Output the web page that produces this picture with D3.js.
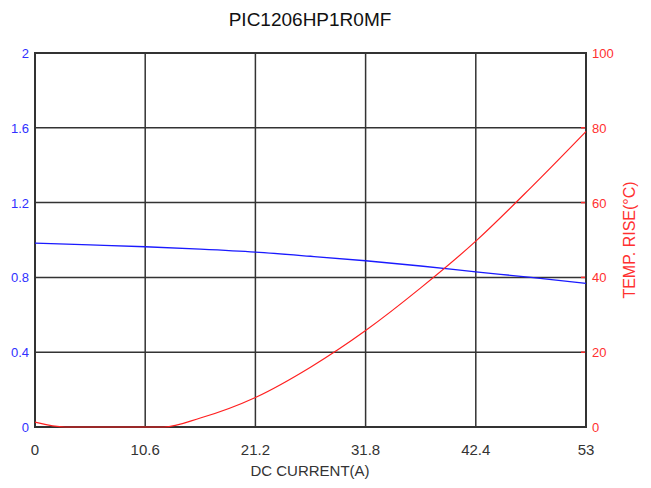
<!DOCTYPE html>
<html><head><meta charset="utf-8">
<script src="https://cdn.jsdelivr.net/npm/d3@7"></script>
<style>body{margin:0;background:#fff}svg{display:block}text{font-family:"Liberation Sans",Arial,sans-serif}</style>
</head><body>
<script>
const title = "PIC1206HP1R0MF";
const xTicks = [0, 10.6, 21.2, 31.8, 42.4, 53];
const yLeftTicks = [0, 0.4, 0.8, 1.2, 1.6, 2];
const yRightTicks = [0, 20, 40, 60, 80, 100];
const blueI = [0, 5.3, 10.6, 15.9, 21.2, 26.5, 31.8, 37.1, 42.4, 47.7, 53];
const blueV = [0.983, 0.974, 0.964, 0.951, 0.935, 0.913, 0.889, 0.861, 0.830, 0.800, 0.768];
const redI = [0, 2.9, 12.4, 15.9, 21.2, 26.5, 31.8, 37.1, 42.4, 47.7, 53];
const redT = [1.3, 0, 0, 2.4, 7.9, 16.0, 25.8, 37.2, 49.7, 64.0, 79];

const W = 651, H = 488;
const m = {l: 35, r: 586, t: 53, b: 427};
const svg = d3.select("body").append("svg").attr("width", W).attr("height", H);
const x = d3.scaleLinear().domain([0, 53]).range([m.l, m.r]);
const yL = d3.scaleLinear().domain([0, 2]).range([m.b, m.t]);
const yR = d3.scaleLinear().domain([0, 100]).range([m.b, m.t]);

const g = svg.append("g");
g.selectAll(".vg").data(xTicks).join("line")
  .attr("x1", d => x(d)).attr("x2", d => x(d)).attr("y1", m.t).attr("y2", m.b)
  .attr("stroke", "#333").attr("stroke-width", 1.5);
g.selectAll(".hg").data(yLeftTicks).join("line")
  .attr("x1", m.l).attr("x2", m.r).attr("y1", d => yL(d)).attr("y2", d => yL(d))
  .attr("stroke", "#333").attr("stroke-width", 1.5);
g.selectAll(".rt").data(yRightTicks).join("line")
  .attr("x1", m.r - 5).attr("x2", m.r).attr("y1", d => yR(d)).attr("y2", d => yR(d))
  .attr("stroke", "#ff3030").attr("stroke-width", 1.5);

svg.append("rect").attr("x", m.l).attr("y", m.t).attr("width", m.r - m.l).attr("height", m.b - m.t)
  .attr("fill", "none").attr("stroke", "#333").attr("stroke-width", 2);

const blue = blueI.map((d, i) => [d, blueV[i]]);
const red = redI.map((d, i) => [d, redT[i]]);
svg.append("path").datum(blue)
  .attr("d", d3.line().x(d => x(d[0])).y(d => yL(d[1])).curve(d3.curveMonotoneX))
  .attr("fill", "none").attr("stroke", "#1a1aff").attr("stroke-width", 1.3);
svg.append("path").datum(red)
  .attr("d", d3.line().x(d => x(d[0])).y(d => yR(d[1])).curve(d3.curveMonotoneX))
  .attr("fill", "none").attr("stroke", "#ff2020").attr("stroke-width", 1.2);

svg.append("g").selectAll("text").data(yLeftTicks).join("text")
  .attr("x", 29).attr("y", d => yL(d) + 5).attr("text-anchor", "end")
  .attr("font-size", 13).attr("fill", "#3030ff").text(d => d);
svg.append("g").selectAll("text").data(yRightTicks).join("text")
  .attr("x", 592).attr("y", d => yR(d) + 5).attr("text-anchor", "start")
  .attr("font-size", 13).attr("fill", "#ff3030").text(d => d);
svg.append("g").selectAll("text").data(xTicks).join("text")
  .attr("x", d => x(d)).attr("y", 455).attr("text-anchor", "middle")
  .attr("font-size", 15).attr("fill", "#333").text(d => d);

svg.append("text").attr("x", 310).attr("y", 26).attr("text-anchor", "middle")
  .attr("font-size", 19).attr("fill", "#111").text(title);
svg.append("text").attr("x", 310).attr("y", 476).attr("text-anchor", "middle")
  .attr("font-size", 15).attr("fill", "#333").text("DC CURRENT(A)");
svg.append("text").attr("transform", "translate(635,240) rotate(-90)").attr("text-anchor", "middle")
  .attr("font-size", 16).attr("fill", "#ff3030").text("TEMP. RISE(°C)");
</script>
</body></html>
